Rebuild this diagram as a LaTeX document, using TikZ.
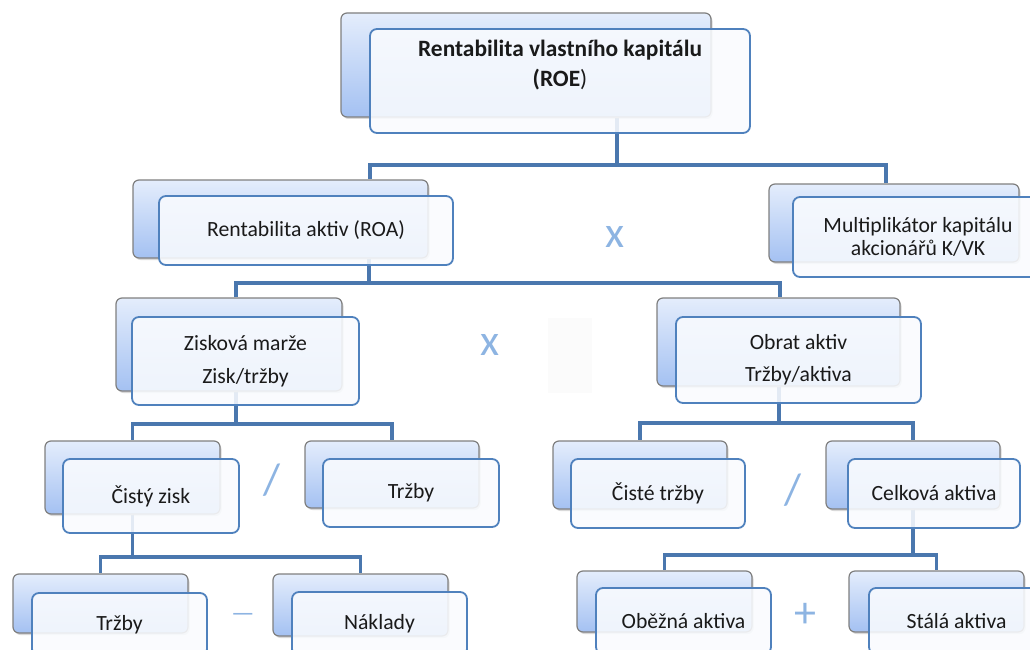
\documentclass[tikz,border=0pt]{standalone}
\usepackage{fontspec}
\setmainfont{Carlito}
\usetikzlibrary{positioning,shadows,backgrounds}
\definecolor{backtop}{HTML}{E4EDFC}
\definecolor{backbot}{HTML}{A4C1F2}
\definecolor{backline}{HTML}{7F7F7F}
\definecolor{frontline}{HTML}{4F81BD}
\definecolor{frontfill}{HTML}{F9FBFE}
\definecolor{connline}{HTML}{4A77AE}
\definecolor{opcolor}{HTML}{8DB4E2}
\definecolor{txt}{HTML}{1A1A1A}

\begin{document}
\begin{tikzpicture}[x=1pt, y=-1pt,
    every node/.style={rectangle, align=center, inner sep=0pt, text=txt,
        font=\fontsize{21.7}{26}\selectfont},
    boxsize/.style 2 args={minimum width=#1pt, minimum height=#2pt},
    backbox/.style={rounded corners=6pt, draw=backline, line width=1.2pt,
        top color=backtop, bottom color=backbot,
        drop shadow={opacity=0.3, shadow xshift=1.5pt, shadow yshift=-2pt}},
    frontbox/.style={rounded corners=7pt, draw=frontline, line width=1.8pt,
        fill=frontfill, fill opacity=0.88, text opacity=1},
    conn/.style={draw=connline, line width=3.3pt},
    oper/.style={text=opcolor, font=\fontsize{44}{44}\selectfont}
]
\useasboundingbox (0,0) rectangle (1030,650);
\clip (0,0) rectangle (1030,650);

\node[backbox, boxsize={370}{104}] (roe-b) at (526,65) {};
\node[frontbox, boxsize={380}{104}] (roe-f) at (560,81) {};
\node[font=\bfseries\fontsize{23.4}{30}\selectfont] (roe-t) at (560,65)
    {Rentabilita vlastního kapitálu\\(ROE{\mdseries )}};

\node[backbox, boxsize={295}{78}] (roa-b) at (280.5,219) {};
\node[frontbox, boxsize={294}{69}] (roa-f) at (306,230.5) {Rentabilita aktiv (ROA)};

\node[backbox, boxsize={250}{78}] (multi-b) at (894,223) {};
\node[frontbox, boxsize={250}{80}] (multi-f) at (918,237)
    {Multiplikátor kapitálu\\[-3pt]akcionářů K/VK};

\node[backbox, boxsize={226}{93}] (zisk-b) at (229,344.5) {};
\node[frontbox, boxsize={227}{88}] (zisk-f) at (245.5,361)
    {Zisková marže\\[7pt]Zisk/tržby};

\node[backbox, boxsize={243}{88}] (obrat-b) at (778.5,342) {};
\node[frontbox, boxsize={245}{86}] (obrat-f) at (798.5,360)
    {Obrat aktiv\\[6pt]Tržby/aktiva};

\node[backbox, boxsize={175}{73}] (cisty-b) at (132.5,477.5) {};
\node[frontbox, boxsize={176}{74}] (cisty-f) at (151,496) {Čistý zisk};

\node[backbox, boxsize={174}{67}] (trzby-b) at (392,474.5) {};
\node[frontbox, boxsize={176}{68}] (trzby-f) at (411,493) {Tržby};

\node[backbox, boxsize={174}{68}] (cist-b) at (640,475) {};
\node[frontbox, boxsize={174}{69}] (cist-f) at (658,493.5) {Čisté tržby};

\node[backbox, boxsize={174}{68}] (celk-b) at (913,475) {};
\node[frontbox, boxsize={172}{69}] (celk-f) at (934,493.5) {Celková aktiva};

\node[backbox, boxsize={175}{59}] (trzby2-b) at (100.5,603.5) {};
\node[frontbox, boxsize={175}{63}] (trzby2-f) at (119.5,624.5) {Tržby};

\node[backbox, boxsize={175}{62}] (naklady-b) at (360.5,605) {};
\node[frontbox, boxsize={175}{64}] (naklady-f) at (379.5,624) {Náklady};

\node[backbox, boxsize={175}{61}] (obezna-b) at (664.5,601.5) {};
\node[frontbox, boxsize={175}{66}] (obezna-f) at (683.5,621) {Oběžná aktiva};

\node[backbox, boxsize={175}{61}] (stala-b) at (936.5,601.5) {};
\node[frontbox, boxsize={175}{66}] (stala-f) at (956.5,621) {Stálá aktiva};

\node[oper] (op-krat1) at (615,237) {x};
\node[oper] (op-krat2) at (490,345) {x};
\node[oper] (op-del1) at (272,480) {/};
\node[oper] (op-del2) at (793,490) {/};
\node[oper, font=\fontsize{26}{26}\selectfont] (op-minus) at (243,617) {—};
\node[oper] (op-plus) at (805,615) {+};

\begin{scope}[on background layer]
\node[fill=black!1.5, boxsize={44}{75}] (blank) at (570,355.5) {};
\draw[conn] (roe-b.south -| 617,0) -- (617,165) -| (roa-b.north -| 370,0);
\draw[conn] (617,165) -| (multi-b.north -| 886,0);
\draw[conn] (roa-b.south -| 369,0) -- (369,283);
\draw[conn] (zisk-b.north -| 236,0) -- (236,283) -| (obrat-b.north -| 780,0);
\draw[conn] (zisk-b.south -| 236,0) -- (236,424) -| (cisty-b.north);
\draw[conn] (236,424) -| (trzby-b.north);
\draw[conn] (obrat-b.south -| 779,0) -- (779,423) -| (cist-b.north);
\draw[conn] (779,423) -| (celk-b.north);
\draw[conn] (cisty-b.south) -- (132.5,557) -| (trzby2-b.north);
\draw[conn] (132.5,557) -| (naklady-b.north);
\draw[conn] (celk-b.south) -- (913,555) -| (obezna-b.north);
\draw[conn] (913,555) -| (stala-b.north);
\end{scope}
\end{tikzpicture}
\end{document}
